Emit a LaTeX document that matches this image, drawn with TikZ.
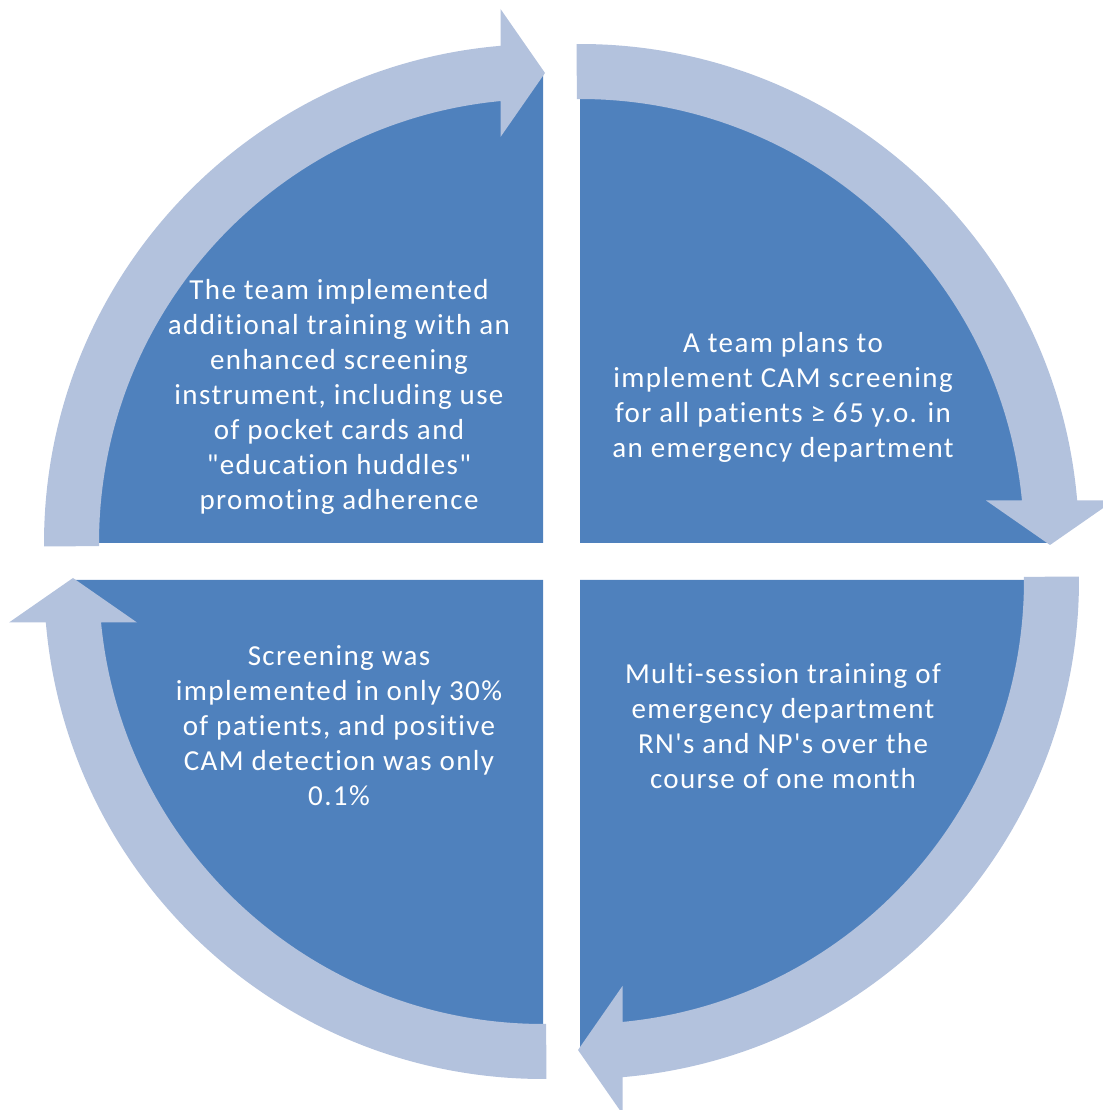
\documentclass[tikz,border=0pt]{standalone}
\usepackage{fontspec}
\setmainfont{Carlito}[LetterSpace=4.8, Ligatures={NoCommon,TeXOff}]
\definecolor{darkq}{HTML}{4F81BD}
\definecolor{lightarr}{HTML}{B3C2DD}
\newcommand\cycarrow[2]{%
  \fill[lightarr, shift={#1}, rotate=#2]
    (90.4:499) arc[start angle=90.4, end angle=4.886, radius=499]
    -- (534,42.5) -- (470,-2) -- (406,42.5)
    -- (5.493:444) arc[start angle=5.493, end angle=90.4, radius=444]
    -- cycle;}
\begin{document}
\begin{tikzpicture}[x=1pt,y=1pt,
  quad/.style={fill=darkq},
  qtext/.style={text=white, align=center, font=\fontsize{29}{35}\selectfont, inner sep=0pt}]
\useasboundingbox (0,0) rectangle (1102,1110);
% quadrants
\fill[quad] (580,567) -- ++(0,470) arc[start angle=90, end angle=0, radius=470] -- cycle;
\fill[quad] (580,530) -- ++(470,0) arc[start angle=0, end angle=-90, radius=470] -- cycle;
\fill[quad] (543,530) -- ++(0,-470) arc[start angle=-90, end angle=-180, radius=470] -- cycle;
\fill[quad] (543,567) -- ++(-470,0) arc[start angle=180, end angle=90, radius=470] -- cycle;
% arrows
\cycarrow{(580,567)}{0}
\cycarrow{(580,530)}{-90}
\cycarrow{(543,530)}{-180}
\cycarrow{(543,567)}{90}
% texts
\node[qtext] (tr) at (783,713) {A team plans to\\implement CAM screening\\for all patients ≥ 65 y.o. in\\an emergency department};
\node[qtext] (br) at (783,384) {Multi-session training of\\emergency department\\RN's and NP's over the\\course of one month};
\node[qtext] (bl) at (339,384) {Screening was\\implemented in only 30\%\\of patients, and positive\\CAM detection was only\\0.1\%};
\node[qtext] (tl) at (339,713) {The team implemented\\additional training with an\\enhanced screening\\instrument, including use\\of pocket cards and\\"education huddles"\\promoting adherence};
\end{tikzpicture}
\end{document}
